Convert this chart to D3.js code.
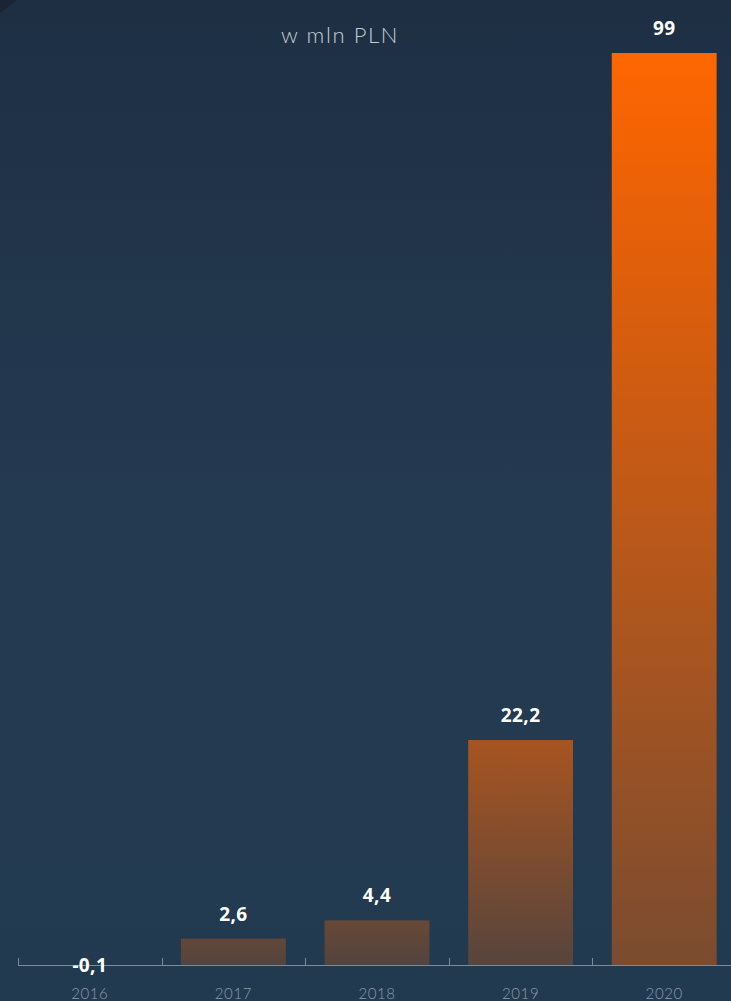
<!DOCTYPE html>
<html>
<head>
<meta charset="utf-8">
<script src="https://cdn.jsdelivr.net/npm/d3@7"></script>
<style>
  html, body { margin: 0; padding: 0; background: #223a50; overflow: hidden; }
  svg { display: block; }
</style>
</head>
<body>
<div id="chart"></div>
<script>
const years = ["2016", "2017", "2018", "2019", "2020"];
const values = [-0.1, 2.6, 4.4, 22.2, 99];
const valueLabels = ["-0,1", "2,6", "4,4", "22,2", "99"];
const unitLabel = "w mln PLN";

const width = 731;
const height = 1001;
const baseY = 965;
const topY = 53;

const svg = d3.select("#chart")
    .append("svg")
    .attr("width", width)
    .attr("height", height);

const defs = svg.append("defs");

// page background
const bg = defs.append("linearGradient")
    .attr("id", "bg")
    .attr("x1", 0).attr("y1", 0).attr("x2", 0).attr("y2", 1);
bg.append("stop").attr("offset", "0").attr("stop-color", "#1e2f44");
bg.append("stop").attr("offset", "0.5").attr("stop-color", "#243a51");
bg.append("stop").attr("offset", "1").attr("stop-color", "#223a50");

svg.append("rect")
    .attr("width", width)
    .attr("height", height)
    .attr("fill", "url(#bg)");

// dark corner top-left
svg.append("path")
    .attr("d", "M0,0 L17,0 L0,13 Z")
    .attr("fill", "#1a2434");

const x = d3.scaleBand()
    .domain(years)
    .range([18, 736])
    .paddingInner(0.27)
    .paddingOuter(0.135);

// the tallest bar runs off the top of the plot
const y = d3.scaleLinear()
    .domain([0, 90])
    .range([baseY, topY])
    .clamp(true);

const topOpacity = d3.scaleLinear()
    .domain([baseY, y(22.2), topY])
    .range([0.25, 0.6, 1])
    .clamp(true);

const g = svg.append("g");

const data = years.map((yr, i) => ({ year: yr, value: values[i], label: valueLabels[i] }));

data.forEach((d, i) => {
    const top = Math.min(y(d.value), y(0));
    const a = topOpacity(top);
    const grad = defs.append("linearGradient")
        .attr("id", "bar" + i)
        .attr("x1", 0).attr("y1", 0).attr("x2", 0).attr("y2", 1);
    grad.append("stop").attr("offset", "0")
        .attr("stop-color", "#ff6600").attr("stop-opacity", a);
    grad.append("stop").attr("offset", "1")
        .attr("stop-color", "#ff6600").attr("stop-opacity", Math.max(0.22, a * 0.4));
});

g.selectAll(".bar")
    .data(data)
    .enter().append("rect")
    .attr("class", "bar")
    .attr("x", d => x(d.year))
    .attr("y", d => Math.min(y(d.value), y(0)))
    .attr("width", x.bandwidth())
    .attr("height", d => Math.max(1, Math.abs(y(0) - y(d.value))))
    .attr("fill", (d, i) => "url(#bar" + i + ")");

// thin orange foot under each bar
g.selectAll(".foot")
    .data(data)
    .enter().append("rect")
    .attr("class", "foot")
    .attr("x", d => x(d.year))
    .attr("y", y(0))
    .attr("width", x.bandwidth())
    .attr("height", 1)
    .attr("fill", "#e0691c")
    .attr("opacity", 0.85);

// axis line and boundary ticks
const axis = g.append("g");
const [r0, r1] = x.range();
axis.append("line")
    .attr("x1", r0).attr("x2", r1)
    .attr("y1", y(0) + 0.5).attr("y2", y(0) + 0.5)
    .attr("stroke", "#7d8a98")
    .attr("stroke-width", 1);

const boundaries = years.map(d => x(d) - x.step() * x.paddingInner() / 2);
axis.selectAll(".tick")
    .data(boundaries)
    .enter().append("line")
    .attr("class", "tick")
    .attr("x1", d => Math.round(d) + 0.5).attr("x2", d => Math.round(d) + 0.5)
    .attr("y1", y(0) - 7).attr("y2", y(0))
    .attr("stroke", "#7d8a98");

axis.selectAll(".xlabel")
    .data(years)
    .enter().append("text")
    .attr("class", "xlabel")
    .attr("x", d => x(d) + x.bandwidth() / 2)
    .attr("y", 999)
    .attr("text-anchor", "middle")
    .style("font-family", "Lato, 'Noto Sans', sans-serif")
    .style("font-weight", 300)
    .style("font-size", "15px")
    .style("letter-spacing", "0.6px")
    .style("fill", "#8e9cab")
    .text(d => d);

// value labels
g.selectAll(".vlabel")
    .data(data)
    .enter().append("text")
    .attr("class", "vlabel")
    .attr("x", d => x(d.year) + x.bandwidth() / 2)
    .attr("y", d => d.value < 0 ? y(0) + 7 : y(d.value) - 18)
    .attr("text-anchor", "middle")
    .style("font-family", "'Noto Sans', 'Open Sans', sans-serif")
    .style("font-weight", 700)
    .style("font-size", "19px")
    .style("letter-spacing", "0.4px")
    .style("fill", "#ffffff")
    .text(d => d.label);

// unit caption
svg.append("text")
    .attr("x", 340)
    .attr("y", 43)
    .attr("text-anchor", "middle")
    .style("font-family", "Lato, 'Noto Sans', sans-serif")
    .style("font-weight", 300)
    .style("font-size", "22px")
    .style("letter-spacing", "1.6px")
    .style("fill", "#c5ccd4")
    .text(unitLabel);
</script>
</body>
</html>
